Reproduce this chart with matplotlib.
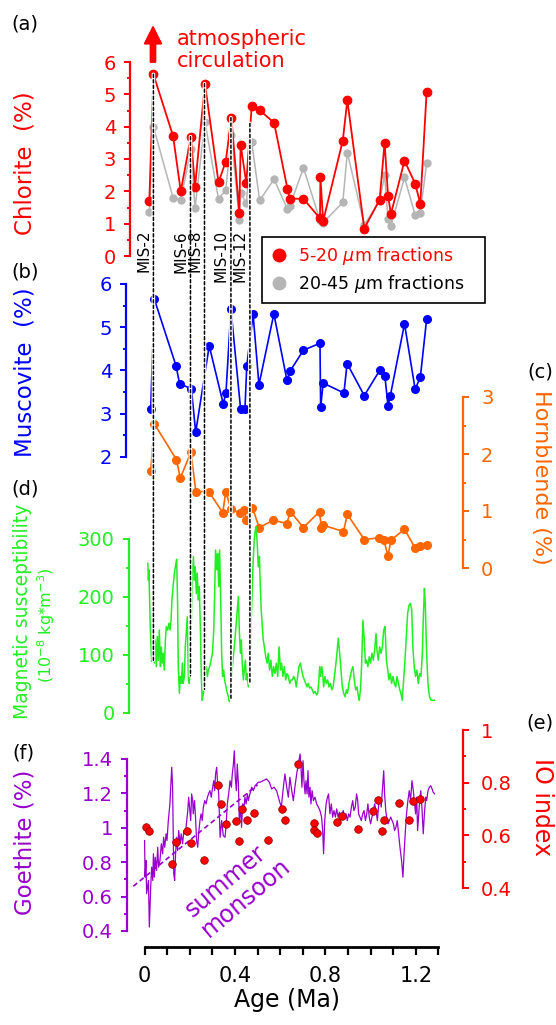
import matplotlib
matplotlib.use('Agg')
import matplotlib.pyplot as plt
from matplotlib.ticker import MultipleLocator, FuncFormatter
from matplotlib.patches import ConnectionPatch
from matplotlib.lines import Line2D
from matplotlib import transforms

# ---------------- data ----------------
# (a) chlorite, two grain-size fractions
chl_age = [0.021, 0.039, 0.126, 0.160, 0.205, 0.223, 0.267, 0.327, 0.359, 0.384,
           0.419, 0.425, 0.450, 0.474, 0.509, 0.573, 0.632, 0.643, 0.703, 0.776,
           0.778, 0.790, 0.877, 0.897, 0.972, 1.040, 1.062, 1.077, 1.090, 1.150,
           1.197, 1.220, 1.248]
chl_fine = [1.71, 5.62, 3.71, 2.00, 3.69, 2.13, 5.33, 2.28, 2.92, 4.28,
            1.33, 3.44, 2.26, 4.64, 4.51, 4.12, 2.08, 1.77, 1.77, 1.16,
            2.44, 1.08, 3.57, 4.82, 0.85, 1.74, 3.51, 1.87, 1.30, 2.95,
            2.24, 1.62, 5.08]
chl_coarse = [1.37, 4.00, 1.80, 1.73, 3.30, 1.47, 4.15, 1.76, 2.04, 3.74,
              1.11, 1.94, 1.63, 3.52, 1.72, 2.37, 1.45, 1.55, 2.73, 1.10,
              1.12, 1.03, 1.66, 3.20, 0.96, 1.70, 2.50, 1.14, 0.93, 2.43,
              1.27, 1.34, 2.87]

# (b) muscovite
mus_age = [0.027, 0.043, 0.139, 0.155, 0.207, 0.226, 0.286, 0.348, 0.360, 0.382,
           0.425, 0.444, 0.452, 0.480, 0.506, 0.572, 0.630, 0.643, 0.703, 0.776,
           0.779, 0.790, 0.882, 0.896, 0.972, 1.040, 1.063, 1.077, 1.087, 1.150,
           1.197, 1.220, 1.248]
mus_val = [3.10, 5.65, 4.11, 3.69, 3.58, 2.57, 4.57, 3.23, 3.48, 5.42,
           3.10, 3.10, 4.10, 5.30, 3.67, 5.31, 3.77, 3.98, 4.47, 4.63,
           3.15, 3.71, 3.48, 4.16, 3.42, 4.00, 3.88, 3.19, 3.41, 5.08,
           3.57, 3.84, 5.19]

# (c) hornblende
hbl_age = [0.027, 0.043, 0.141, 0.158, 0.205, 0.227, 0.284, 0.346, 0.359, 0.382,
           0.422, 0.442, 0.450, 0.477, 0.507, 0.570, 0.629, 0.645, 0.703, 0.774,
           0.782, 0.790, 0.880, 0.897, 0.972, 1.038, 1.058, 1.077, 1.090, 1.150,
           1.197, 1.220, 1.248]
hbl_val = [1.70, 2.53, 1.90, 1.58, 2.03, 1.34, 1.34, 0.97, 1.34, 1.04,
           0.96, 1.01, 0.84, 1.06, 0.71, 0.84, 0.78, 0.99, 0.71, 0.99,
           0.71, 0.75, 0.64, 0.94, 0.50, 0.53, 0.50, 0.21, 0.49, 0.68,
           0.35, 0.39, 0.41]

# (d) magnetic susceptibility
ms_age = [0.014, 0.017, 0.019, 0.025, 0.031, 0.036, 0.039, 0.043, 0.047, 0.052,
          0.056, 0.061, 0.065, 0.070, 0.074, 0.078, 0.083, 0.087, 0.092, 0.096,
          0.102, 0.108, 0.112, 0.117, 0.121, 0.126, 0.132, 0.136, 0.142, 0.146,
          0.149, 0.154, 0.158, 0.163, 0.167, 0.171, 0.176, 0.180, 0.185, 0.189,
          0.194, 0.198, 0.202, 0.207, 0.211, 0.216, 0.220, 0.224, 0.229, 0.233,
          0.238, 0.242, 0.247, 0.251, 0.255, 0.260, 0.264, 0.269, 0.273, 0.278,
          0.282, 0.288, 0.294, 0.300, 0.306, 0.310, 0.314, 0.319, 0.323, 0.328,
          0.332, 0.337, 0.341, 0.345, 0.350, 0.354, 0.360, 0.366, 0.371, 0.375,
          0.379, 0.385, 0.391, 0.397, 0.403, 0.409, 0.415, 0.419, 0.424, 0.428,
          0.432, 0.437, 0.441, 0.446, 0.450, 0.454, 0.459, 0.463, 0.468, 0.474,
          0.480, 0.485, 0.490, 0.494, 0.499, 0.503, 0.508, 0.512, 0.516, 0.521,
          0.525, 0.530, 0.536, 0.542, 0.547, 0.553, 0.559, 0.565, 0.571, 0.577,
          0.583, 0.589, 0.595, 0.601, 0.606, 0.612, 0.618, 0.624, 0.630, 0.636,
          0.642, 0.648, 0.654, 0.660, 0.666, 0.671, 0.677, 0.683, 0.689, 0.695,
          0.701, 0.707, 0.713, 0.719, 0.724, 0.730, 0.736, 0.742, 0.748, 0.754,
          0.761, 0.766, 0.770, 0.775, 0.779, 0.784, 0.788, 0.792, 0.798, 0.804,
          0.810, 0.816, 0.822, 0.828, 0.834, 0.840, 0.845, 0.851, 0.857, 0.863,
          0.869, 0.875, 0.881, 0.887, 0.893, 0.898, 0.904, 0.910, 0.916, 0.922,
          0.928, 0.934, 0.940, 0.946, 0.950, 0.955, 0.960, 0.966, 0.972, 0.977,
          0.982, 0.988, 0.994, 1.000, 1.006, 1.012, 1.018, 1.024, 1.028, 1.034,
          1.040, 1.046, 1.052, 1.058, 1.064, 1.070, 1.076, 1.081, 1.087, 1.093,
          1.099, 1.105, 1.111, 1.117, 1.123, 1.129, 1.134, 1.140, 1.146, 1.152,
          1.158, 1.164, 1.170, 1.176, 1.182, 1.187, 1.193, 1.199, 1.205, 1.211,
          1.217, 1.223, 1.229, 1.233, 1.238, 1.242, 1.247, 1.251, 1.255, 1.261,
          1.267, 1.273, 1.282]
ms_val = [258, 229, 247, 149, 89, 103, 137, 86, 126, 80,
          132, 91, 143, 80, 114, 86, 103, 74, 126, 149,
          143, 155, 143, 160, 195, 218, 241, 252, 265, 189,
          80, 34, 63, 51, 86, 51, 63, 114, 143, 166,
          57, 51, 91, 160, 241, 270, 229, 252, 206, 241,
          195, 218, 143, 63, 22, 34, 45, 63, 80, 63,
          74, 80, 91, 103, 143, 206, 281, 247, 275, 218,
          281, 189, 103, 63, 74, 57, 45, 34, 28, 20,
          34, 63, 91, 114, 143, 172, 201, 143, 103, 126,
          86, 57, 74, 91, 57, 68, 45, 63, 103, 189,
          258, 298, 316, 321, 287, 252, 270, 218, 178, 149,
          126, 114, 97, 86, 103, 74, 91, 63, 80, 68,
          86, 63, 114, 74, 86, 63, 80, 57, 68, 63,
          51, 57, 57, 63, 57, 45, 63, 80, 86, 74,
          63, 57, 51, 45, 51, 43, 45, 40, 34, 37,
          31, 34, 51, 80, 63, 80, 68, 45, 63, 51,
          57, 45, 51, 40, 45, 63, 80, 103, 129, 103,
          74, 45, 34, 28, 40, 34, 51, 63, 74, 80,
          57, 40, 45, 28, 22, 40, 80, 160, 126, 86,
          91, 80, 97, 86, 103, 91, 109, 137, 109, 91,
          114, 103, 114, 143, 149, 91, 74, 57, 68, 51,
          63, 51, 45, 63, 51, 40, 34, 22, 57, 91,
          132, 172, 186, 189, 178, 114, 80, 63, 74, 51,
          68, 63, 103, 160, 215, 189, 114, 74, 45, 28,
          22, 22, 22]

# (f) goethite
goe_age = [0.000, 0.002, 0.006, 0.009, 0.017, 0.021, 0.027, 0.031, 0.036, 0.039,
           0.043, 0.047, 0.053, 0.058, 0.062, 0.068, 0.074, 0.080, 0.084, 0.089,
           0.095, 0.099, 0.105, 0.112, 0.120, 0.124, 0.129, 0.133, 0.137, 0.142,
           0.146, 0.151, 0.157, 0.162, 0.168, 0.174, 0.180, 0.185, 0.191, 0.195,
           0.199, 0.204, 0.208, 0.213, 0.215, 0.221, 0.226, 0.230, 0.235, 0.239,
           0.245, 0.250, 0.255, 0.260, 0.266, 0.272, 0.278, 0.283, 0.289, 0.295,
           0.301, 0.306, 0.310, 0.314, 0.319, 0.323, 0.328, 0.334, 0.341, 0.348,
           0.356, 0.360, 0.366, 0.372, 0.378, 0.384, 0.388, 0.393, 0.397, 0.401,
           0.406, 0.410, 0.415, 0.419, 0.424, 0.429, 0.434, 0.440, 0.444, 0.449,
           0.455, 0.459, 0.466, 0.474, 0.481, 0.489, 0.496, 0.503, 0.511, 0.525,
           0.540, 0.552, 0.562, 0.573, 0.584, 0.596, 0.605, 0.614, 0.621, 0.629,
           0.636, 0.643, 0.651, 0.658, 0.665, 0.673, 0.680, 0.688, 0.692, 0.696,
           0.701, 0.705, 0.710, 0.714, 0.719, 0.723, 0.727, 0.732, 0.736, 0.741,
           0.747, 0.754, 0.761, 0.769, 0.776, 0.783, 0.788, 0.792, 0.797, 0.803,
           0.809, 0.814, 0.820, 0.826, 0.832, 0.838, 0.844, 0.850, 0.856, 0.862,
           0.867, 0.873, 0.879, 0.885, 0.891, 0.897, 0.903, 0.909, 0.915, 0.921,
           0.926, 0.932, 0.938, 0.943, 0.947, 0.953, 0.959, 0.965, 0.971, 0.977,
           0.983, 0.988, 0.994, 1.000, 1.006, 1.012, 1.018, 1.024, 1.030, 1.036,
           1.041, 1.047, 1.053, 1.058, 1.062, 1.067, 1.071, 1.077, 1.083, 1.089,
           1.095, 1.101, 1.106, 1.112, 1.118, 1.124, 1.130, 1.137, 1.143, 1.148,
           1.154, 1.159, 1.165, 1.171, 1.177, 1.183, 1.189, 1.195, 1.199, 1.204,
           1.208, 1.213, 1.217, 1.222, 1.227, 1.233, 1.238, 1.244, 1.248, 1.254,
           1.260, 1.266, 1.272, 1.277, 1.283]
goe_val = [0.926, 0.713, 0.810, 0.617, 0.694, 0.423, 0.655, 0.771, 0.694, 0.849,
           0.713, 0.829, 0.752, 0.887, 0.771, 0.810, 0.907, 0.849, 0.945, 0.887,
           0.965, 0.926, 1.042, 1.139, 1.352, 1.236, 0.733, 0.694, 0.849, 0.945,
           0.868, 0.984, 0.907, 0.965, 0.907, 0.984, 0.965, 1.023, 1.100, 1.178,
           1.120, 1.042, 1.197, 1.158, 1.081, 1.158, 1.042, 0.926, 0.887, 0.965,
           1.042, 1.081, 1.042, 1.120, 1.158, 1.139, 1.178, 1.197, 1.216, 1.178,
           1.236, 1.274, 1.216, 1.313, 1.352, 1.255, 1.197, 0.945, 1.042, 0.955,
           0.945, 1.003, 1.139, 1.197, 1.274, 1.236, 1.313, 1.371, 1.448, 1.294,
           1.216, 1.371, 1.255, 1.042, 1.120, 1.003, 1.139, 1.120, 1.178, 1.139,
           1.197, 1.158, 1.197, 1.236, 1.216, 1.245, 1.255, 1.265, 1.265, 1.274,
           1.284, 1.265, 1.226, 1.236, 1.216, 1.158, 1.120, 1.236, 1.313, 1.236,
           1.178, 1.294, 1.216, 1.158, 1.236, 1.313, 1.371, 1.429, 1.352, 1.236,
           1.390, 1.274, 1.197, 1.274, 1.197, 1.332, 1.178, 1.236, 1.139, 1.216,
           1.158, 1.178, 1.139, 1.120, 1.100, 1.062, 0.984, 0.849, 1.042, 1.139,
           1.178, 1.197, 1.081, 1.139, 1.062, 1.100, 1.062, 1.110, 1.062, 1.091,
           1.042, 1.081, 1.100, 1.062, 1.081, 1.042, 1.081, 1.062, 1.120, 1.158,
           1.100, 1.120, 1.197, 1.158, 1.081, 1.062, 1.042, 1.081, 1.100, 1.042,
           1.081, 1.139, 1.062, 1.023, 1.062, 1.100, 1.139, 1.100, 1.042, 1.139,
           1.178, 1.120, 1.236, 1.332, 1.197, 1.100, 1.062, 1.023, 1.042, 1.062,
           1.042, 1.023, 0.984, 1.003, 1.042, 0.965, 0.887, 0.810, 0.713, 0.849,
           0.984, 1.081, 1.158, 1.216, 1.158, 1.274, 1.216, 1.139, 1.081, 1.178,
           0.984, 1.081, 1.158, 1.216, 1.120, 0.965, 1.081, 1.178, 1.158, 1.216,
           1.236, 1.245, 1.226, 1.207, 1.197]
trend_age = [-0.05, 0.50]
trend_val = [0.66, 1.25]

# (e) IO index
io_age = [0.005, 0.019, 0.120, 0.137, 0.186, 0.205, 0.263, 0.323, 0.338, 0.359,
          0.406, 0.418, 0.432, 0.454, 0.482, 0.546, 0.607, 0.620, 0.677, 0.751,
          0.751, 0.763, 0.853, 0.873, 0.946, 1.012, 1.031, 1.052, 1.059, 1.124,
          1.170, 1.189, 1.218]
io_val = [0.633, 0.617, 0.490, 0.575, 0.618, 0.570, 0.506, 0.790, 0.720, 0.644,
          0.656, 0.580, 0.699, 0.658, 0.685, 0.582, 0.700, 0.657, 0.872, 0.646,
          0.620, 0.610, 0.651, 0.675, 0.625, 0.692, 0.734, 0.615, 0.657, 0.723,
          0.658, 0.729, 0.739]

# glacial stages linking chlorite peaks with susceptibility lows
mis_label = ['MIS-2', 'MIS-6', 'MIS-8', 'MIS-10', 'MIS-12']
mis_age = [0.039, 0.203, 0.265, 0.382, 0.466]
mis_chl = [5.62, 3.69, 5.33, 4.28, 4.10]
mis_ms = [91, 64, 41, 25, 51]

# ---------------- styling ----------------
RED = '#ff0000'
GRAY = '#b5b5b5'
BLUE = '#0000ff'
ORANGE = '#ff6600'
GREEN = '#22ee22'
PURPLE = '#9900cc'

W, H, DPI = 556, 1025, 100
X_LEFT, X_RIGHT = 144.6, 438.4   # pixel columns of 0 and 1.3 Ma
AGE_MAX = 1.3

plt.rcParams['font.family'] = ['DejaVu Sans']
fig = plt.figure(figsize=(W / DPI, H / DPI), dpi=DPI)


def fx(px):
    return px / W


def fy(py):
    return 1 - py / H


def make_axis(top, bottom, ylim, color, side, spine_px, major, minor):
    ax = fig.add_axes([fx(X_LEFT), fy(bottom), (X_RIGHT - X_LEFT) / W, (bottom - top) / H])
    ax.patch.set_visible(False)
    ax.set_xlim(0, AGE_MAX)
    ax.set_ylim(*ylim)
    for s in ax.spines.values():
        s.set_visible(False)
    sp = ax.spines[side]
    sp.set_visible(True)
    sp.set_color(color)
    sp.set_linewidth(1.6)
    sp.set_position(('axes', (spine_px - X_LEFT) / (X_RIGHT - X_LEFT)))
    sp.set_bounds(*ylim)
    ax.tick_params(axis='x', which='both', bottom=False, labelbottom=False)
    ax.yaxis.set_ticks_position(side)
    ax.yaxis.set_major_locator(MultipleLocator(major))
    ax.yaxis.set_minor_locator(MultipleLocator(minor))
    ax.yaxis.set_major_formatter(FuncFormatter(lambda v, p: f'{v:g}'))
    ax.tick_params(axis='y', which='both', colors=color, width=1.4, direction='out', labelsize=14)
    ax.tick_params(axis='y', which='major', length=4, pad=6 if side == 'left' else 9)
    ax.tick_params(axis='y', which='minor', length=2.5)
    return ax


ax_chl = make_axis(62, 256, (0, 6), RED, 'left', 130, 1, 0.5)
ax_chl.plot(chl_age, chl_coarse, '-o', color=GRAY, lw=1.1, ms=5, clip_on=False)
ax_chl.plot(chl_age, chl_fine, '-o', color=RED, lw=1.3, ms=6, clip_on=False)

ax_mus = make_axis(284, 457, (2, 6), BLUE, 'left', 126, 1, 0.5)
ax_mus.plot(mus_age, mus_val, '-o', color=BLUE, lw=1.2, ms=5.5, clip_on=False)

ax_hbl = make_axis(397, 568, (0, 3), ORANGE, 'right', 463, 1, 0.5)
ax_hbl.plot(hbl_age, hbl_val, '-o', color=ORANGE, lw=1.2, ms=5.5, clip_on=False)

ax_ms = make_axis(539, 713, (0, 300), GREEN, 'left', 128.5, 100, 50)
ax_ms.plot(ms_age, ms_val, '-', color=GREEN, lw=1.1, clip_on=False)

ax_goe = make_axis(759, 931, (0.4, 1.4), PURPLE, 'left', 127, 0.2, 0.1)
ax_goe.plot(goe_age, goe_val, '-', color=PURPLE, lw=0.9, clip_on=False)
ax_goe.plot(trend_age, trend_val, '--', color=PURPLE, lw=1.2, dashes=(3, 2), clip_on=False)

# shared age axis along the bottom
bsp = ax_goe.spines['bottom']
bsp.set_visible(True)
bsp.set_color('black')
bsp.set_linewidth(2)
bsp.set_position(('outward', 11.5))
bsp.set_bounds(0, AGE_MAX)
ax_goe.xaxis.set_major_locator(MultipleLocator(0.4))
ax_goe.xaxis.set_minor_locator(MultipleLocator(0.1))
ax_goe.xaxis.set_major_formatter(FuncFormatter(lambda v, p: f'{v:g}'))
ax_goe.tick_params(axis='x', which='both', bottom=True, labelbottom=True, direction='out',
                   length=6, width=1.6, colors='black', labelsize=15, pad=8)

ax_io = make_axis(730, 888, (0.4, 1.0), RED, 'right', 463, 0.2, 0.1)
ax_io.plot(io_age, io_val, 'o', color=RED, mec='#8b0000', mew=0.5, ms=5.5, clip_on=False)

# MIS tie lines
for age, top, bot, lab in zip(mis_age, mis_chl, mis_ms, mis_label):
    for kw in (dict(color='white', lw=2.6), dict(color='black', lw=1.1, linestyle=(0, (2, 1.6)))):
        con = ConnectionPatch(xyA=(age, top), coordsA=ax_chl.transData,
                              xyB=(age, bot), coordsB=ax_ms.transData, **kw)
        fig.add_artist(con)
    tr = transforms.offset_copy(transforms.blended_transform_factory(ax_chl.transData, fig.transFigure),
                                fig=fig, x=-2, y=0, units='dots')
    fig.text(age, fy(230), lab, transform=tr, rotation=90, ha='right', va='top', fontsize=11)

# legend
handles = [Line2D([], [], ls='none', marker='o', color=RED, ms=9),
           Line2D([], [], ls='none', marker='o', color=GRAY, ms=9)]
leg = fig.legend(handles, ['5-20 $\\mu$m fractions', '20-45 $\\mu$m fractions'],
                 loc='upper left', bbox_to_anchor=(fx(262), fy(299), (485 - 262) / W, 62 / H),
                 mode='expand', frameon=True, fancybox=False,
                 edgecolor='black', framealpha=1, fontsize=12.5, handlelength=1.1, handletextpad=0.55,
                 borderpad=0.45, labelspacing=0.35, borderaxespad=0)
leg.get_frame().set_linewidth(1.2)
leg.get_texts()[0].set_color(RED)

# arrow and annotation
fig.add_artist(plt.annotate('', xy=(153, H - 27), xytext=(153, H - 62), xycoords='figure pixels',
                            arrowprops=dict(arrowstyle='simple,head_length=0.6,head_width=0.6,tail_width=0.18',
                                            fc=RED, ec=RED, mutation_scale=20, shrinkA=0, shrinkB=0),
                            annotation_clip=False))
fig.text(fx(177), fy(50), 'atmospheric\ncirculation', color=RED, fontsize=15, ha='left', va='center',
         linespacing=1.15)

# axis titles
fig.text(fx(25), fy(163), 'Chlorite  (%)', color=RED, fontsize=16.5, rotation=90, ha='center', va='center')
fig.text(fx(25), fy(372), 'Muscovite  (%)', color=BLUE, fontsize=16.5, rotation=90, ha='center', va='center')
fig.text(fx(541), fy(477), 'Hornblende (%)', color=ORANGE, fontsize=16, rotation=-90, ha='center', va='center')
fig.text(fx(23), fy(611), 'Magnetic susceptibility', color=GREEN, fontsize=13.5, rotation=90,
         ha='center', va='center')
fig.text(fx(46), fy(625), '(10$^{-8}$ kg*m$^{-3}$)', color=GREEN, fontsize=11.5, rotation=90,
         ha='center', va='center')
fig.text(fx(25), fy(842), 'Goethite (%)', color=PURPLE, fontsize=16.5, rotation=90, ha='center', va='center')
fig.text(fx(542), fy(807), 'IO index', color=RED, fontsize=17, rotation=-90, ha='center', va='center')
fig.text(fx(287), fy(1000), 'Age (Ma)', color='black', fontsize=17, ha='center', va='center')
fig.text(fx(238), fy(888), 'summer\nmonsoon', color=PURPLE, fontsize=17, rotation=40,
         ha='center', va='center', multialignment='left', linespacing=1.1)

# panel letters
for lab, (px, py) in {'(a)': (25, 24), '(b)': (25, 272), '(c)': (540, 372),
                      '(d)': (25, 489), '(e)': (540, 723), '(f)': (23, 753)}.items():
    fig.text(fx(px), fy(py), lab, fontsize=14, ha='center', va='center')

fig.savefig('out.png', dpi=DPI)
